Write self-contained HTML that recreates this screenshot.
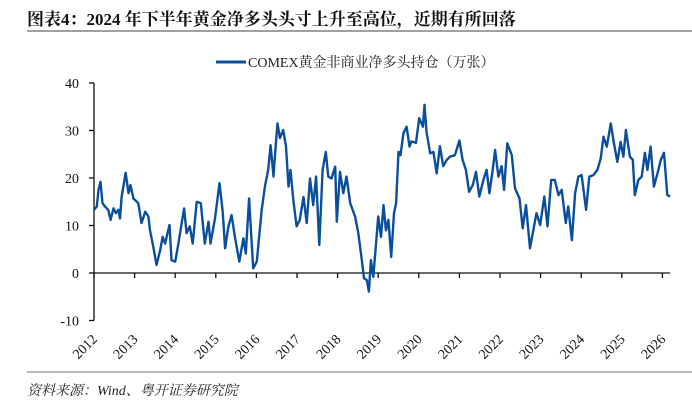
<!DOCTYPE html>
<html><head><meta charset="utf-8">
<style>
html,body{margin:0;padding:0;background:#fff;}
body{width:692px;height:405px;position:relative;overflow:hidden;font-family:"Liberation Serif","Noto Serif CJK SC",serif;}
#title{position:absolute;left:27px;top:5px;font-size:17px;font-weight:bold;color:#111;white-space:nowrap;}
#src{position:absolute;left:27px;top:380px;font-size:14px;font-style:italic;color:#222;white-space:nowrap;}
svg{position:absolute;left:0;top:0;}
</style></head>
<body>
<div id="title">图表4：2024 年下半年黄金净多头头寸上升至高位，近期有所回落</div>
<svg id="chart" width="692" height="405"></svg>
<div id="src">资料来源：Wind、粤开证券研究院</div>
<script>
const yearsSince2012 = [0,.07,.11,.16,.21,.27,.35,.41,.48,.54,.60,.64,.68,.78,.85,.90,.97,1.09,1.17,1.26,1.34,1.38,1.46,1.54,1.63,1.69,1.75,1.81,1.86,1.91,2.00,2.08,2.16,2.22,2.28,2.36,2.43,2.53,2.63,2.73,2.82,2.87,2.98,3.09,3.17,3.23,3.31,3.39,3.47,3.58,3.68,3.74,3.82,3.86,3.92,4.01,4.13,4.21,4.29,4.35,4.42,4.46,4.52,4.58,4.66,4.73,4.79,4.84,4.91,4.99,5.07,5.16,5.24,5.32,5.40,5.47,5.55,5.63,5.71,5.77,5.85,5.94,5.98,6.06,6.14,6.22,6.31,6.43,6.51,6.59,6.65,6.72,6.77,6.82,6.88,6.96,7.00,7.07,
7.13,7.19,7.25,7.32,7.39,7.44,7.50,7.55,7.62,7.70,7.77,7.82,7.93,8.01,8.10,8.14,8.19,8.28,8.36,8.44,8.52,8.60,8.69,8.77,8.89,9.00,9.08,9.16,9.24,9.33,9.41,9.49,9.59,9.67,9.74,9.82,9.88,9.96,10.04,10.10,10.18,10.29,10.37,10.48,10.56,10.64,10.74,10.82,10.90,10.99,11.09,11.17,11.26,11.35,11.44,11.52,11.62,11.68,11.77,11.85,11.93,12.01,12.12,12.20,12.30,12.40,12.48,12.55,12.63,12.73,12.79,12.89,12.97,13.04,13.10,13.20,13.27,13.32,13.41,13.49,13.57,13.63,13.71,13.79,13.88,13.96,14.04,14.12,14.19];
const netLong = [13.3,14,17.5,19.2,14.7,14,13.3,11.2,13.6,12.6,13.3,11.5,16,21.1,16.8,18.5,15.7,14.7,10.5,12.9,11.9,9,5.5,1.7,4.8,7.6,6.2,8.4,10.1,2.7,2.4,6.2,10.5,13.6,8.4,9.8,6.2,15,14.7,6.2,10.8,6.2,11.5,18.9,12.9,5.2,9.8,12.2,7.6,2.4,7.3,4.1,15.7,9.8,1,2.4,13.3,18.2,21.7,26.9,20.3,25.2,31.5,28.4,30.1,26.6,18.2,21.7,15.4,9.8,11.2,16,10.5,19.9,14.3,20.3,5.9,21.7,25.5,20.3,19.9,22.4,10.8,21.3,16.8,20.3,14.7,11.9,8.4,3.1,-1.1,-1.5,-3.9,2.7,-0.8,7.6,11.9,7.6,
14.3,9,11.2,3.4,12.6,14.7,25.5,24.8,29.4,30.8,26.6,27.7,27.4,32.6,30.8,35.4,29.7,25.2,25.5,21,26.7,22.5,23.8,24.5,24.8,27.9,23.8,21.7,17.1,18.5,21.3,16.1,19.6,21.7,16.8,21.7,25.9,20.3,22.5,17.5,27.3,24.8,17.8,15.7,9.4,14.3,5.2,9,12.6,10.1,16.1,9.8,19.6,19.6,16.4,17.5,10.5,14,6.9,16.8,20.3,20.6,13.3,20.3,20.6,21.7,24.1,28.7,26.6,31.5,28.1,23.4,27.6,24.5,30.1,24.5,23.8,16.4,19.6,20.3,25.3,21.7,26.6,18.2,21,23.8,25.3,16.4,16.1];
const yTicks = [40,30,20,10,0,-10];
const xYears = [2012,2013,2014,2015,2016,2017,2018,2019,2020,2021,2022,2023,2024,2025,2026];
const legendLabel = "COMEX黄金非商业净多头持仓（万张）";

const NS="http://www.w3.org/2000/svg";
const svg=document.getElementById('chart');
const X0=94, PXY=40.6, Y0=273, PXV=4.75;
const xs=t=>X0+t*PXY;
const ys=v=>Y0-v*PXV;
function mk(tag,attrs){const e=document.createElementNS(NS,tag);for(const k in attrs)e.setAttribute(k,attrs[k]);svg.appendChild(e);return e;}

let l=mk('line',{x1:27,y1:31,x2:692,y2:31,stroke:'#a0a0a0','stroke-width':2});


l=mk('line',{x1:27,y1:372,x2:692,y2:372,stroke:'#a0a0a0','stroke-width':1.5});



l=mk('line',{x1:216,y1:62,x2:246,y2:62,stroke:'#0b4f9c','stroke-width':3});


let t=mk('text',{x:248,y:67,'font-size':14,fill:'#222','font-family':'"Liberation Serif","Noto Serif CJK SC",serif'});
t.textContent=legendLabel;



l=mk('line',{x1:X0,y1:ys(40),x2:X0,y2:ys(-10),stroke:'#111','stroke-width':1.3});


yTicks.forEach(v=>{
  let tk=mk('line',{x1:X0-5,y1:ys(v),x2:X0,y2:ys(v),stroke:'#111','stroke-width':1.3});
  
  
  let tx=mk('text',{x:79,y:ys(v)+5,'text-anchor':'end','font-size':14,fill:'#111'});
  tx.textContent=v;
  
  
});
l=mk('line',{x1:X0,y1:ys(0),x2:670,y2:ys(0),stroke:'#111','stroke-width':1.3});


xYears.forEach(yr=>{
  const x=xs(yr-2012);
  let tk=mk('line',{x1:x,y1:ys(0),x2:x,y2:ys(0)+5,stroke:'#111','stroke-width':1.3});
  
  
  let tx=mk('text',{x:0,y:0,'text-anchor':'end','font-size':14,fill:'#111',transform:`translate(${x+4},${340}) rotate(-45)`});
  tx.textContent=yr;
  
  
});
let d=yearsSince2012.map((t,i)=>(i?'L':'M')+xs(t).toFixed(1)+','+ys(netLong[i]).toFixed(1)).join(' ');
let p=mk('path',{d:d,fill:'none',stroke:'#0b4f9c','stroke-width':2.4,'stroke-linejoin':'round'});


</script>
</body></html>
